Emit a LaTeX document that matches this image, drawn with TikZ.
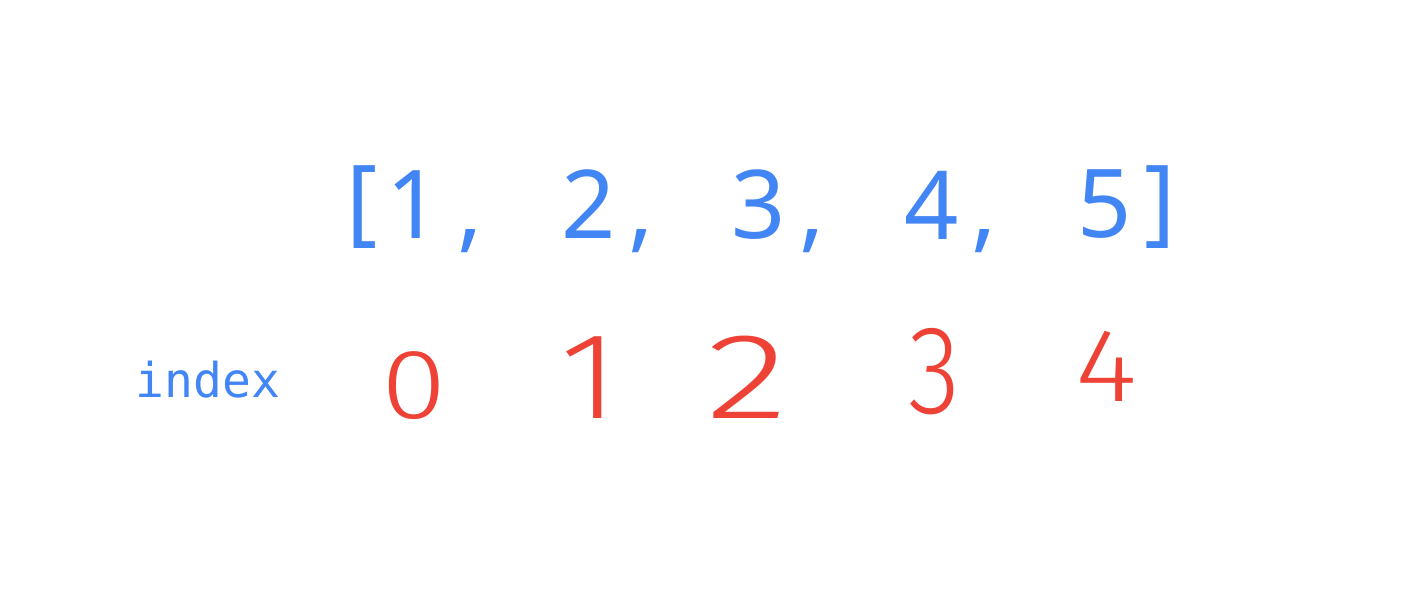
\documentclass[tikz,border=0pt]{standalone}
\usepackage{fontspec}
\setmainfont{Noto Sans}
\newfontfamily\monof{DejaVu Sans Mono}
\newfontfamily\handf{Fira Sans Light}
\definecolor{gblue}{HTML}{4285F4}
\definecolor{gred}{HTML}{EE4237}
\begin{document}
\begin{tikzpicture}[x=1pt,y=-1pt,
  arr/.style={text=gblue, inner sep=0pt, font=\fontsize{95}{95}\selectfont},
  hand/.style={text=gred, inner sep=0pt, font=\handf\fontsize{#1}{#1}\selectfont},
  lbl/.style={text=gblue, inner sep=0pt, anchor=base, font=\monof\fontsize{48}{48}\selectfont}]
\fill[white] (0,0) rectangle (1412,596);
\useasboundingbox (0,0) rectangle (1412,596);
% array
\node[arr] (lb) at (362,207.5) {[};
\node[arr] (d1) at (413.5,205) {1};
\node[arr] (c1) at (470.5,241.5) {,};
\node[arr] (d2) at (589,204.5) {2};
\node[arr] (c2) at (641.5,241.5) {,};
\node[arr] (d3) at (759,204.5) {3};
\node[arr] (c3) at (812.5,241.5) {,};
\node[arr] (d4) at (932,205) {4};
\node[arr] (c4) at (984,241.5) {,};
\node[arr] (d5) at (1105,204.5) {5};
\node[arr] (rb) at (1160,207.5) {]};
% index label
\node[lbl] (idx) at (208,397) {index};
% indices
\node[hand=99] (i0) at (414,386) {\scalebox{1.2}[1]{0}};
\node[hand=123] (i1) at (589.5,377.5) {\scalebox{1.15}[1]{1}};
\node[hand=122] (i2) at (747,377) {\scalebox{1.4}[1]{2}};
\node[hand=126] (i3) at (934.5,371.5) {\scalebox{0.85}[1]{3}};
\node[hand=104] (i4) at (1106,366) {\scalebox{1.15}[1]{4}};
\end{tikzpicture}
\end{document}
